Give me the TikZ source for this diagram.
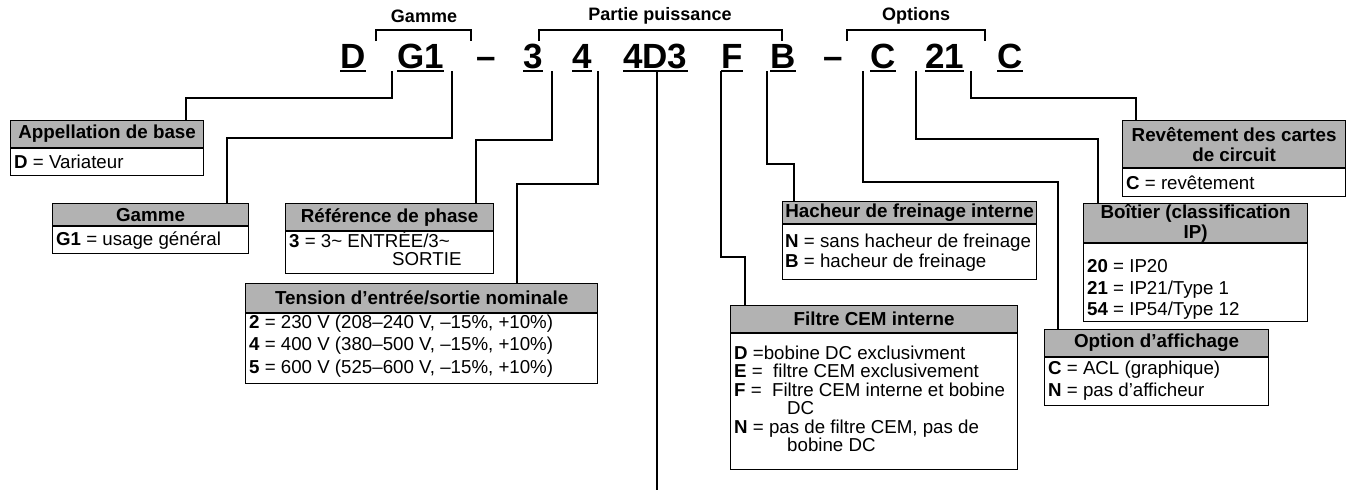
\documentclass[tikz,border=0pt]{standalone}
\usepackage{fontspec}
\setmainfont{Liberation Sans}
\definecolor{hdrgray}{RGB}{178,178,178}
\begin{document}
\begin{tikzpicture}[x=1pt,y=-1pt,
  hdr/.style={draw=black, line width=1.2pt, fill=hdrgray, inner sep=0pt, anchor=north west, font=\bfseries\fontsize{18.8}{20}\selectfont, align=center},
  bdy/.style={draw=black, line width=1.2pt, fill=white, inner sep=0pt, anchor=north west},
  txt/.style={anchor=base west, inner sep=0pt, font=\fontsize{18.7}{21}\selectfont},
  big/.style={anchor=base west, inner sep=0pt, font=\bfseries\fontsize{35}{40}\selectfont},
  conn/.style={line width=2pt},
  ul/.style={line width=2.5pt},
  lbl/.style={font=\bfseries\fontsize{18}{20}\selectfont, inner sep=0pt}]
\useasboundingbox (0,0) rectangle (1351,490);
% ---- top labels and brackets
\node[lbl] (lg) at (424,16) {Gamme};
\node[lbl] (lp) at (660,16) {Partie puissance};
\node[lbl] (lo) at (916,16) {Options};
\draw[conn] (376,41) -- (376,30) -- (471,30) -- (471,41);
\draw[conn] (539,41) -- (539,30) -- (782,30) -- (782,41);
\draw[conn] (847,41) -- (847,30) -- (985,30) -- (985,41);
% ---- code letters
\node[big] (kD) at (340,68) {D};
\node[big] (kG) at (397,68) {G1};
\node[big] (kd1) at (476,68) {–};
\node[big] (k3) at (523,68) {3};
\node[big] (k4) at (572,68) {4};
\node[big] (k4D) at (623,68) {4D3};
\node[big] (kF) at (721,68) {F};
\node[big] (kB) at (770,68) {B};
\node[big] (kd2) at (823,68) {–};
\node[big] (kC) at (870,68) {C};
\node[big] (k21) at (925,68) {21};
\node[big] (kC2) at (997,68) {C};
\foreach \n in {kD,kG,k3,k4,k4D,kF,kB,kC,k21,kC2}
  \draw[ul] ([yshift=-3pt]\n.base west) -- ([yshift=-3pt]\n.base east);
% ---- boxes
\node[hdr, minimum width=193pt, minimum height=27pt] (A) at (10,120) {Appellation de base};
\node[bdy, minimum width=193pt, minimum height=27pt] (Ab) at (A.south west) {};
\node[txt] (At1) at (14,168) {\textbf{D} = Variateur};

\node[hdr, minimum width=196pt, minimum height=22pt] (G) at (52,203) {Gamme};
\node[bdy, minimum width=196pt, minimum height=27pt] (Gb) at (G.south west) {};
\node[txt] (Gt1) at (56,245) {\textbf{G1} = usage général};

\node[hdr, minimum width=208pt, minimum height=27pt] (R) at (285,203) {Référence de phase};
\node[bdy, minimum width=208pt, minimum height=42pt] (Rb) at (R.south west) {};
\node[txt] (Rt1) at (289,247) {\textbf{3} = 3\textasciitilde{} ENTRÉE/3\textasciitilde};
\node[txt] (Rt2) at (392,265) {SORTIE};

\node[hdr, minimum width=352pt, minimum height=29pt] (T) at (245,283) {Tension d'entrée/sortie nominale};
\node[bdy, minimum width=352pt, minimum height=70pt] (Tb) at (T.south west) {};
\node[txt] (Tt1) at (249,328) {\textbf{2} = 230 V (208–240 V, –15\%, +10\%)};
\node[txt] (Tt2) at (249,350) {\textbf{4} = 400 V (380–500 V, –15\%, +10\%)};
\node[txt] (Tt3) at (249,373) {\textbf{5} = 600 V (525–600 V, –15\%, +10\%)};

\node[hdr, minimum width=254pt, minimum height=22pt] (H) at (782,201) {Hacheur de freinage interne};
\node[bdy, minimum width=254pt, minimum height=55pt] (Hb) at (H.south west) {};
\node[txt] (Ht1) at (785,247) {\textbf{N} = sans hacheur de freinage};
\node[txt] (Ht2) at (785,267) {\textbf{B} = hacheur de freinage};

\node[hdr, minimum width=287pt, minimum height=27pt] (F) at (730,305) {Filtre CEM interne};
\node[bdy, minimum width=287pt, minimum height=136pt] (Fb) at (F.south west) {};
\node[txt] (Ft1) at (734,359) {\textbf{D} =bobine DC exclusivment};
\node[txt] (Ft2) at (734,377.5) {\textbf{E} = \ filtre CEM exclusivement};
\node[txt] (Ft3) at (734,396) {\textbf{F} = \ Filtre CEM interne et bobine};
\node[txt] (Ft4) at (787,414.5) {DC};
\node[txt] (Ft5) at (734,433) {\textbf{N} = pas de filtre CEM, pas de};
\node[txt] (Ft6) at (787,451.5) {bobine DC};

\node[hdr, minimum width=224pt, minimum height=27pt] (O) at (1044,329) {Option d'affichage};
\node[bdy, minimum width=224pt, minimum height=48pt] (Ob) at (O.south west) {};
\node[txt] (Ot1) at (1048,374) {\textbf{C} = ACL (graphique)};
\node[txt] (Ot2) at (1048,396) {\textbf{N} = pas d'afficheur};

\node[hdr, minimum width=224pt, minimum height=39pt] (Bo) at (1083,203) {Boîtier (classification\\IP)};
\node[bdy, minimum width=224pt, minimum height=78pt] (Bob) at (Bo.south west) {};
\node[txt] (Bt1) at (1087,272) {\textbf{20} = IP20};
\node[txt] (Bt2) at (1087,294) {\textbf{21} = IP21/Type 1};
\node[txt] (Bt3) at (1087,315) {\textbf{54} = IP54/Type 12};

\node[hdr, minimum width=223pt, minimum height=47pt] (Rv) at (1122,120) {Revêtement des cartes\\de circuit};
\node[bdy, minimum width=223pt, minimum height=28pt] (Rvb) at (Rv.south west) {};
\node[txt] (Rvt1) at (1126,189) {\textbf{C} = revêtement};
% ---- connectors
\coordinate (sD) at (392,71);
\coordinate (sG) at (452,71);
\coordinate (s3) at (552,71);
\coordinate (s4) at (598,71);
\coordinate (s4D) at (657,71);
\coordinate (e4D) at (657,490);
\coordinate (sF) at (721,71);
\coordinate (sB) at (767,71);
\coordinate (sC) at (863,71);
\coordinate (s21) at (916,71);
\coordinate (sC2) at (971,71);
\draw[conn] (sD) -- ++(0,27) -| ([xshift=176pt]A.north west);
\draw[conn] (sG) -- ++(0,67) -| ([xshift=175pt]G.north west);
\draw[conn] (s3) -- ++(0,69) -| ([xshift=191pt]R.north west);
\draw[conn] (s4) -- ++(0,113) -| ([xshift=272pt]T.north west);
\draw[conn] (s4D) -- (e4D);
\draw[conn] (sF) -- ++(0,186) -| ([xshift=15pt]F.north west);
\draw[conn] (sB) -- ++(0,93) -| ([xshift=12pt]H.north west);
\draw[conn] (sC) -- ++(0,111) -| ([xshift=14pt]O.north west);
\draw[conn] (s21) -- ++(0,68) -| ([xshift=15pt]Bo.north west);
\draw[conn] (sC2) -- ++(0,27) -| ([xshift=14pt]Rv.north west);
\end{tikzpicture}
\end{document}
